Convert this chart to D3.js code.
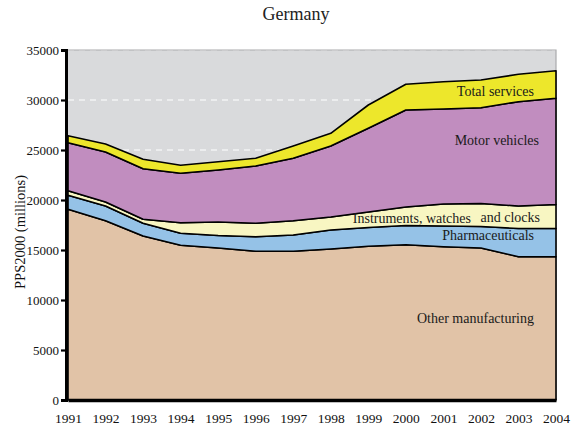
<!DOCTYPE html>
<html>
<head>
<meta charset="utf-8">
<script src="https://cdn.jsdelivr.net/npm/d3@7"></script>
<style>
  html, body { margin: 0; padding: 0; background: #fff; }
  svg { display: block; font-family: "Liberation Serif", "DejaVu Serif", serif; }
</style>
</head>
<body>
<svg id="chart" width="584" height="428"></svg>
<script>
// Gross value added in Germany, stacked by sector (PPS2000, millions)
const years = [1991, 1992, 1993, 1994, 1995, 1996, 1997, 1998, 1999, 2000, 2001, 2002, 2003, 2004];
const otherManufacturing = [19070, 17930, 16400, 15470, 15200, 14870, 14870, 15100, 15370, 15530, 15330, 15200, 14330, 14330];
const pharmaceuticals    = [1400, 1470, 1270, 1200, 1250, 1460, 1630, 1900, 1880, 1920, 2070, 2150, 2820, 2820];
const instruments        = [460, 400, 400, 1060, 1350, 1340, 1430, 1300, 1550, 1850, 2200, 2300, 2250, 2400];
const motorVehicles      = [4800, 5000, 5060, 4940, 5200, 5730, 6240, 7100, 8370, 9700, 9500, 9580, 10430, 10620];
const totalServices      = [700, 800, 940, 800, 830, 770, 1230, 1270, 2330, 2570, 2730, 2770, 2740, 2760];
const yTicks = [0, 5000, 10000, 15000, 20000, 25000, 30000, 35000];

const seriesKeys = ["other", "pharma", "instr", "motor", "services"];
const seriesColors = {
  other: "#E1C3A7",
  pharma: "#95C2E7",
  instr: "#F8F6C2",
  motor: "#C18DBF",
  services: "#EDE72B"
};

const table = years.map((yr, i) => ({
  year: yr,
  other: otherManufacturing[i],
  pharma: pharmaceuticals[i],
  instr: instruments[i],
  motor: motorVehicles[i],
  services: totalServices[i]
}));

const svg = d3.select("#chart");
const plotL = 68, plotR = 556, plotT = 50, plotB = 400;

const x = d3.scaleLinear().domain([1991, 2004]).range([plotL, plotR]);
const y = d3.scaleLinear().domain([0, 35000]).range([plotB, plotT]);

// grey plot background
svg.append("rect")
  .attr("x", plotL).attr("y", plotT)
  .attr("width", plotR - plotL).attr("height", plotB - plotT)
  .attr("fill", "#D9DADC");

// dashed white gridlines
svg.append("g").selectAll("line")
  .data(yTicks.filter(d => d > 0))
  .join("line")
  .attr("x1", plotL).attr("x2", plotR)
  .attr("y1", d => y(d)).attr("y2", d => y(d))
  .attr("stroke", "#fff")
  .attr("stroke-width", 1.2)
  .attr("stroke-dasharray", "6,5");

// frame on top and right
svg.append("path")
  .attr("d", `M${plotL},${plotT}H${plotR}V${plotB}`)
  .attr("fill", "none")
  .attr("stroke", "#A9AAAC")
  .attr("stroke-width", 1.2);

// stacked areas
const stack = d3.stack().keys(seriesKeys);
const layers = stack(table);
const area = d3.area()
  .x(d => x(d.data.year))
  .y0(d => y(d[0]))
  .y1(d => y(d[1]));

svg.append("g").selectAll("path")
  .data(layers)
  .join("path")
  .attr("d", area)
  .attr("fill", d => seriesColors[d.key])
  .attr("stroke", "#000")
  .attr("stroke-width", 1.6)
  .attr("stroke-linejoin", "round");

// axes
const yAxis = d3.axisLeft(y).tickValues(yTicks).tickSize(5).tickPadding(2).tickFormat(d3.format("d"));
const gy = svg.append("g").attr("transform", `translate(${plotL - 2},0)`).call(yAxis);
gy.select(".domain").attr("stroke", "#000").attr("stroke-width", 3);
gy.selectAll(".tick line").attr("stroke", "#000").attr("stroke-width", 2.2);
gy.selectAll(".tick text").attr("font-size", 13).attr("fill", "#111")
  .attr("font-family", "Liberation Serif, serif");

const xAxis = d3.axisBottom(x).tickValues(years).tickSize(0).tickPadding(13).tickFormat(d3.format("d"));
const gx = svg.append("g").attr("transform", `translate(0,${plotB})`).call(xAxis);
gx.select(".domain").attr("stroke", "#000").attr("stroke-width", 3.4);
gx.selectAll(".tick text").attr("font-size", 13.5).attr("fill", "#111")
  .attr("font-family", "Liberation Serif, serif");

// title
svg.append("text")
  .attr("x", 296).attr("y", 20)
  .attr("text-anchor", "middle")
  .attr("font-size", 18)
  .attr("fill", "#222")
  .text("Germany");

// y-axis label
svg.append("text")
  .attr("transform", "translate(25,232) rotate(-90)")
  .attr("text-anchor", "middle")
  .attr("font-size", 14.5)
  .attr("fill", "#111")
  .text("PPS2000 (millions)");

// series labels
const labels = [
  { text: "Total services", x: 534, y: 96 },
  { text: "Motor vehicles", x: 539, y: 145 },
  { text: "Instruments, watches", x: 471, y: 223 },
  { text: "and clocks", x: 540, y: 222 },
  { text: "Pharmaceuticals", x: 534, y: 240 },
  { text: "Other manufacturing", x: 534, y: 323 }
];
svg.append("g").selectAll("text")
  .data(labels)
  .join("text")
  .attr("x", d => d.x).attr("y", d => d.y)
  .attr("text-anchor", "end")
  .attr("font-size", 14)
  .attr("fill", "#1a1a1a")
  .text(d => d.text);
</script>
</body>
</html>
